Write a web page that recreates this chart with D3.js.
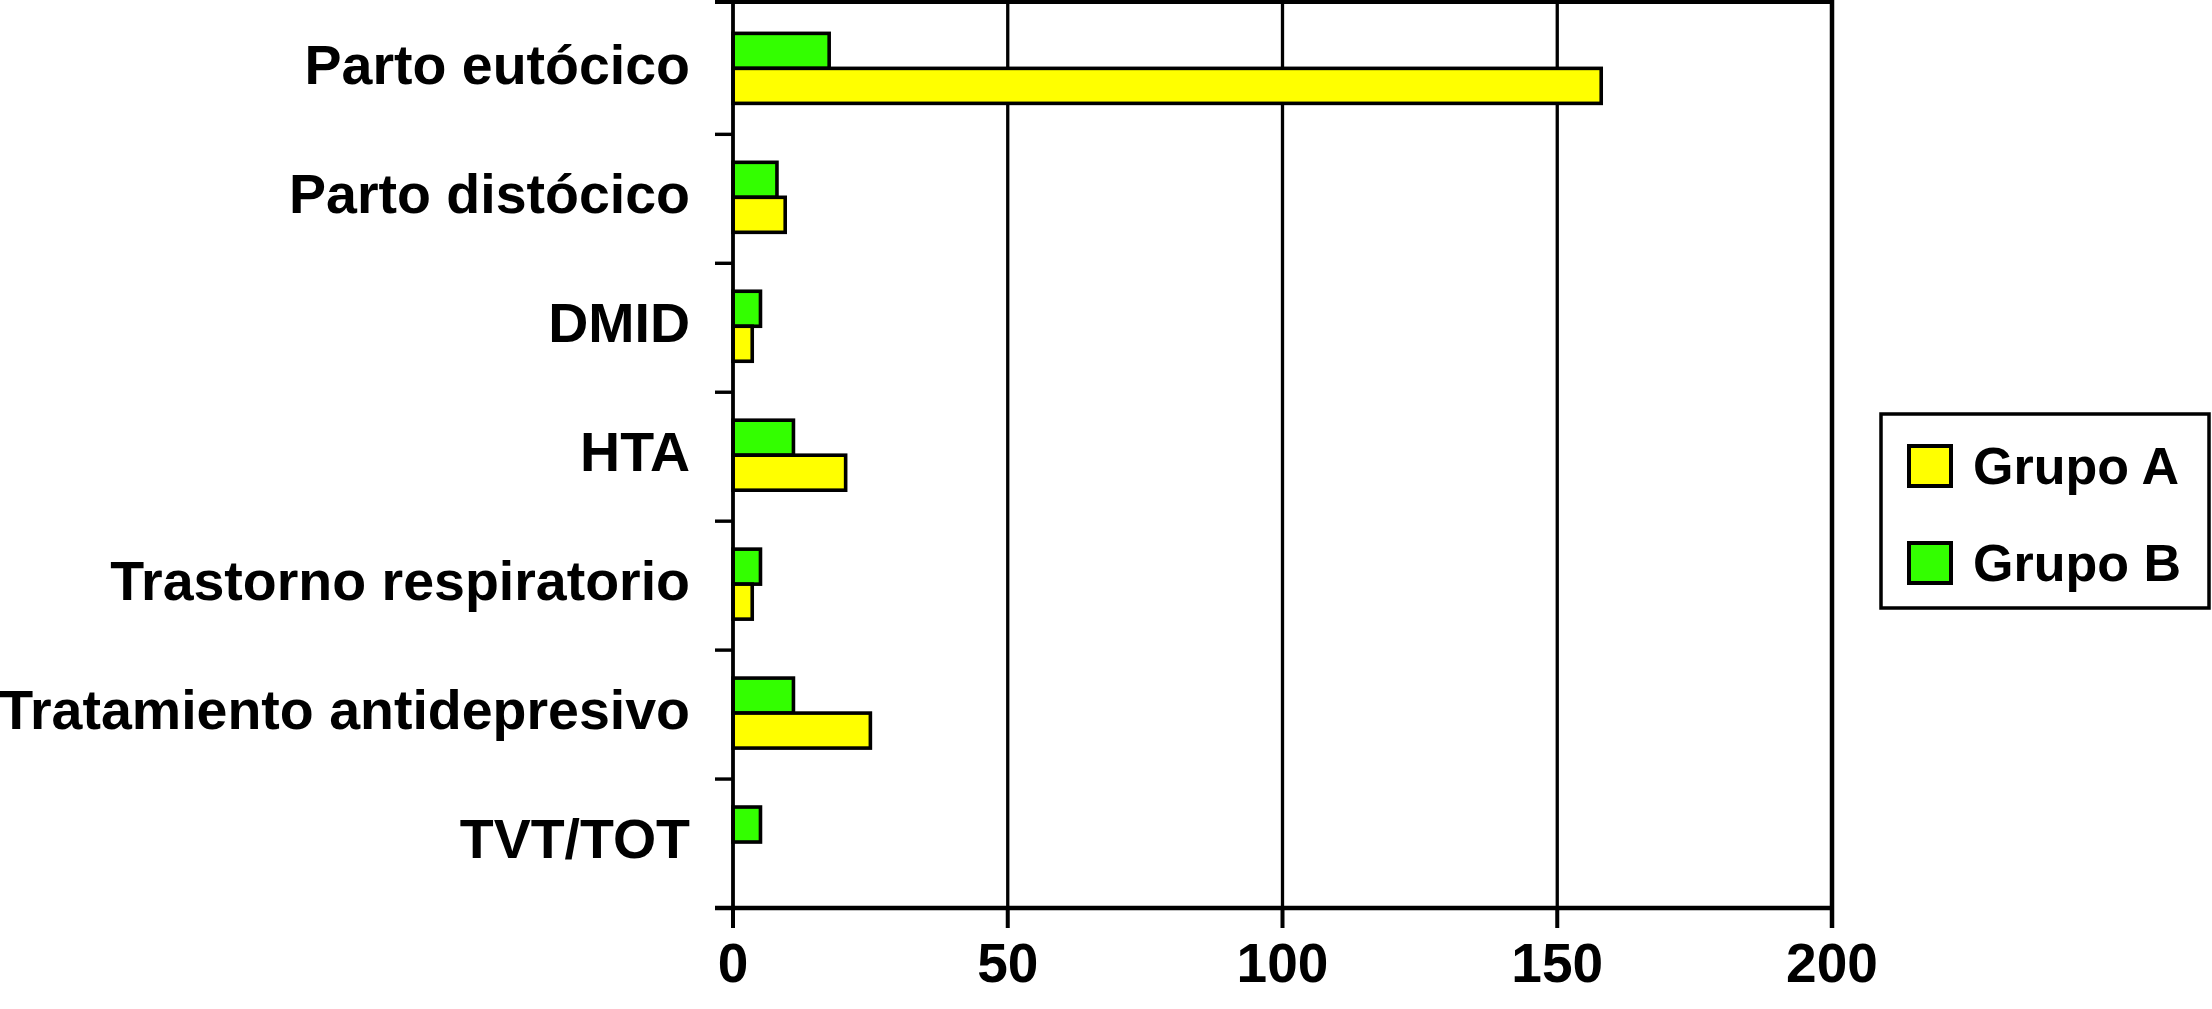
<!DOCTYPE html>
<html>
<head>
<meta charset="utf-8">
<script src="https://cdn.jsdelivr.net/npm/d3@7"></script>
<style>
  html, body { margin: 0; padding: 0; background: #fff; }
  svg { display: block; }
</style>
</head>
<body>
<div id="chart"></div>
<script>
// Horizontal grouped bars, two groups per category

const categories = [
    'Parto eutócico', 'Parto distócico', 'DMID', 'HTA',
    'Trastorno respiratorio', 'Tratamiento antidepresivo', 'TVT/TOT'
];
const grupoB = [17.5, 8, 5, 11, 5, 11, 5];
const grupoA = [158, 9.5, 3.5, 20.5, 3.5, 25, 0];
const xTicks = [0, 50, 100, 150, 200];
const seriesNames = ['Grupo A', 'Grupo B'];
const seriesColors = ['#ffff00', '#33ff00'];

const W = 2212, H = 1009;
const FONT = '"Liberation Sans", Arial, Helvetica, sans-serif';

const svg = d3.select('#chart').append('svg')
    .attr('width', W).attr('height', H)
    .style('background', '#fff');

const x = d3.scaleLinear().domain([0, 200]).range([733, 1832]);
const y = d3.scaleBand().domain(categories).range([5.4, 908]);

// gridlines
const gridLayer = svg.append('g');
gridLayer.selectAll('line.grid').data(xTicks.slice(1, -1)).join('line')
    .attr('x1', d => x(d)).attr('x2', d => x(d))
    .attr('y1', 2).attr('y2', 908)
    .attr('stroke', '#000').attr('stroke-width', 3.3);

// bars
const barH = 35;
const barLayer = svg.append('g');
categories.forEach((c, i) => {
    const cy = y(c) + y.bandwidth() / 2 - 1.5;
    // Grupo B on top, Grupo A below
    barLayer.append('rect')
        .attr('x', x(0)).attr('y', cy - barH)
        .attr('width', x(grupoB[i]) - x(0)).attr('height', barH)
        .attr('fill', seriesColors[1]).attr('stroke', '#000').attr('stroke-width', 3.6);
    if (grupoA[i] > 0) {
        barLayer.append('rect')
            .attr('x', x(0)).attr('y', cy)
            .attr('width', x(grupoA[i]) - x(0)).attr('height', barH)
            .attr('fill', seriesColors[0]).attr('stroke', '#000').attr('stroke-width', 3.6);
    }
});

// frame: top and right
svg.append('line')
    .attr('x1', 715).attr('x2', 1834).attr('y1', 2).attr('y2', 2)
    .attr('stroke', '#000').attr('stroke-width', 4);
svg.append('line')
    .attr('x1', 1832).attr('x2', 1832).attr('y1', 0).attr('y2', 928)
    .attr('stroke', '#000').attr('stroke-width', 4.5);

// y axis
const yAxisG = svg.append('g');
yAxisG.append('line')
    .attr('x1', 733).attr('x2', 733).attr('y1', 0).attr('y2', 910)
    .attr('stroke', '#000').attr('stroke-width', 3.8);
const bounds = categories.map(c => y(c)).concat([y.range()[1]]).slice(1);
yAxisG.selectAll('line.tick').data(bounds).join('line')
    .attr('x1', 715).attr('x2', 733)
    .attr('y1', d => d).attr('y2', d => d)
    .attr('stroke', '#000').attr('stroke-width', 3.4);
yAxisG.selectAll('text').data(categories).join('text')
    .attr('x', 690)
    .attr('y', d => y(d) + y.bandwidth() / 2 + 14.5)
    .attr('text-anchor', 'end')
    .attr('font-family', FONT).attr('font-weight', 'bold')
    .attr('font-size', '55.5px').attr('fill', '#000')
    .text(d => d);

// x axis
const xAxisG = svg.append('g');
xAxisG.append('line')
    .attr('x1', 715).attr('x2', 1834).attr('y1', 908).attr('y2', 908)
    .attr('stroke', '#000').attr('stroke-width', 4.5);
xAxisG.selectAll('line.tick').data(xTicks).join('line')
    .attr('x1', d => x(d)).attr('x2', d => x(d))
    .attr('y1', 908).attr('y2', 928)
    .attr('stroke', '#000').attr('stroke-width', 4);
xAxisG.selectAll('text').data(xTicks).join('text')
    .attr('x', d => x(d)).attr('y', 982)
    .attr('text-anchor', 'middle')
    .attr('font-family', FONT).attr('font-weight', 'bold')
    .attr('font-size', '55px').attr('fill', '#000')
    .text(d => d);

// legend
const legend = svg.append('g');
legend.append('rect')
    .attr('x', 1881).attr('y', 414).attr('width', 328).attr('height', 194)
    .attr('fill', '#fff').attr('stroke', '#000').attr('stroke-width', 3.5);
seriesNames.forEach((name, i) => {
    const ly = 446 + i * 97;
    legend.append('rect')
        .attr('x', 1909).attr('y', ly).attr('width', 42).attr('height', 40)
        .attr('fill', seriesColors[i]).attr('stroke', '#000').attr('stroke-width', 4);
    legend.append('text')
        .attr('x', 1973).attr('y', ly + 38)
        .attr('font-family', FONT).attr('font-weight', 'bold')
        .attr('font-size', '52px').attr('fill', '#000')
        .text(name);
});
</script>
</body>
</html>
